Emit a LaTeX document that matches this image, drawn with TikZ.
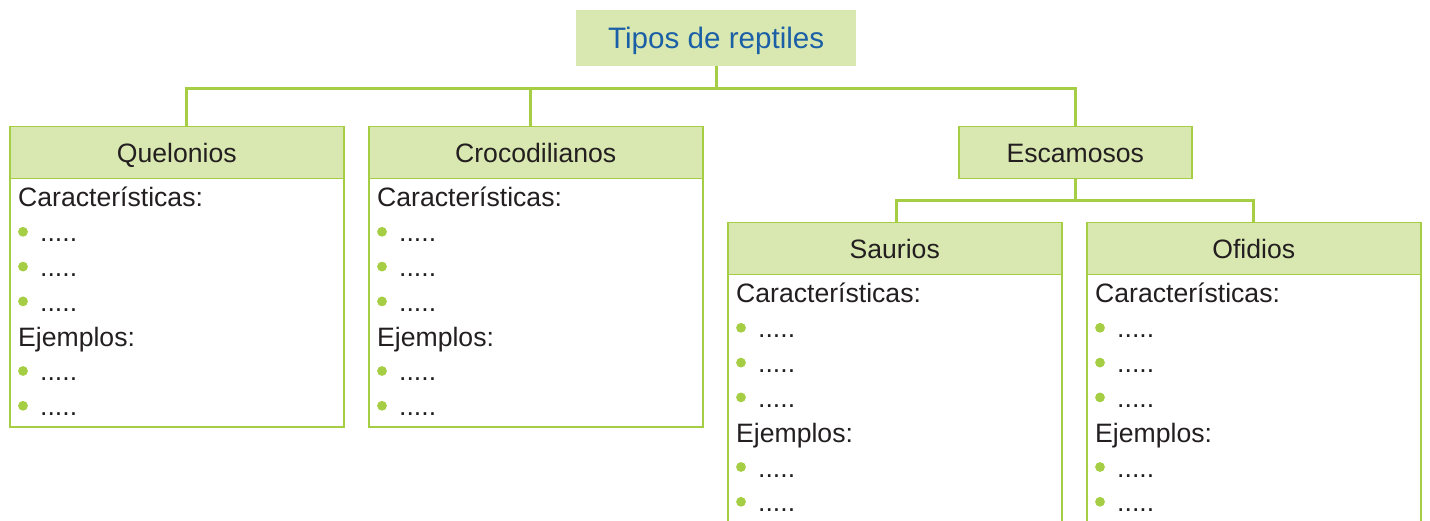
\documentclass[tikz,border=0pt]{standalone}
\usepackage{fontspec}
\setmainfont{Liberation Sans}
\definecolor{hdrfill}{HTML}{D9E8B0}
\definecolor{lgreen}{HTML}{A6CE45}
\definecolor{tblue}{HTML}{1B5FA6}
\definecolor{tdark}{HTML}{231F20}
\tikzset{
  hdr/.style={draw=lgreen, line width=1.5pt, fill=hdrfill, anchor=north west, inner sep=0pt,
    font=\fontsize{26.6}{30}\selectfont, text=tdark, minimum height=52pt,
    text height=19pt, text depth=0pt},
  bodybox/.style={draw=lgreen, line width=1.5pt, fill=white, anchor=north west, inner sep=0pt},
  txt/.style={anchor=base west, inner sep=0pt, font=\fontsize{26.6}{30}\selectfont, text=tdark},
  bul/.style={fill=lgreen},
  conn/.style={draw=lgreen, line width=3pt},
}
\newcommand\fillbody[3]{%
  \node[txt] (#1c) at (#2+9,#3) {Características:};
  \foreach \i in {1,2,3} {
    \node[txt] (#1b\i) at (#2+31,#3+\i*34.8) {.....};
    \fill[bul] (#2+14,#3+\i*34.8-10) circle (4.9);
  }
  \node[txt] (#1e) at (#2+9,#3+4*34.8) {Ejemplos:};
  \foreach \i in {5,6} {
    \node[txt] (#1b\i) at (#2+31,#3+\i*34.8) {.....};
    \fill[bul] (#2+14,#3+\i*34.8-10) circle (4.9);
  }
}
\begin{document}
\begin{tikzpicture}[x=1pt,y=-1pt]
\useasboundingbox (0,0) rectangle (1430,521);
\clip (0,0) rectangle (1430,521);
% title
\node[fill=hdrfill, anchor=north west, minimum width=280pt, minimum height=56pt, inner sep=0pt,
  font=\fontsize{29.6}{34}\selectfont, text=tblue, text height=21pt, text depth=0pt] (title) at (576,10) {Tipos de reptiles};
% level 1 boxes
\node[bodybox, minimum width=334pt, minimum height=248pt] (quelb) at (9,178) {};
\node[hdr, minimum width=334pt] (quel) at (9,126) {Quelonios};
\node[bodybox, minimum width=334pt, minimum height=248pt] (crocb) at (368,178) {};
\node[hdr, minimum width=334pt] (croc) at (368,126) {Crocodilianos};
\node[hdr, minimum width=233pt] (esca) at (958,126) {Escamosos};
% level 2 boxes
\node[bodybox, minimum width=334pt, minimum height=320pt] (saurb) at (727,274) {};
\node[hdr, minimum width=334pt] (saur) at (727,222) {Saurios};
\node[bodybox, minimum width=334pt, minimum height=320pt] (ofidb) at (1086,274) {};
\node[hdr, minimum width=334pt] (ofid) at (1086,222) {Ofidios};
% connectors
\coordinate (j1) at (title.south |- 0,89);
\coordinate (j2) at (esca.south |- 0,201);
\draw[conn] (title.south) -- (j1);
\draw[conn] ([xshift=10pt]quel.north) |- (j1) -| (esca.north);
\draw[conn] ([xshift=-5pt]croc.north) -- ([xshift=-5pt]croc.north |- j1);
\draw[conn] (esca.south) -- (j2);
\draw[conn] ([xshift=2pt]saur.north) |- (j2) -| (ofid.north);
% body texts
\fillbody{q}{9}{207}
\fillbody{c}{368}{207}
\fillbody{s}{727}{303}
\fillbody{o}{1086}{303}
\end{tikzpicture}
\end{document}
